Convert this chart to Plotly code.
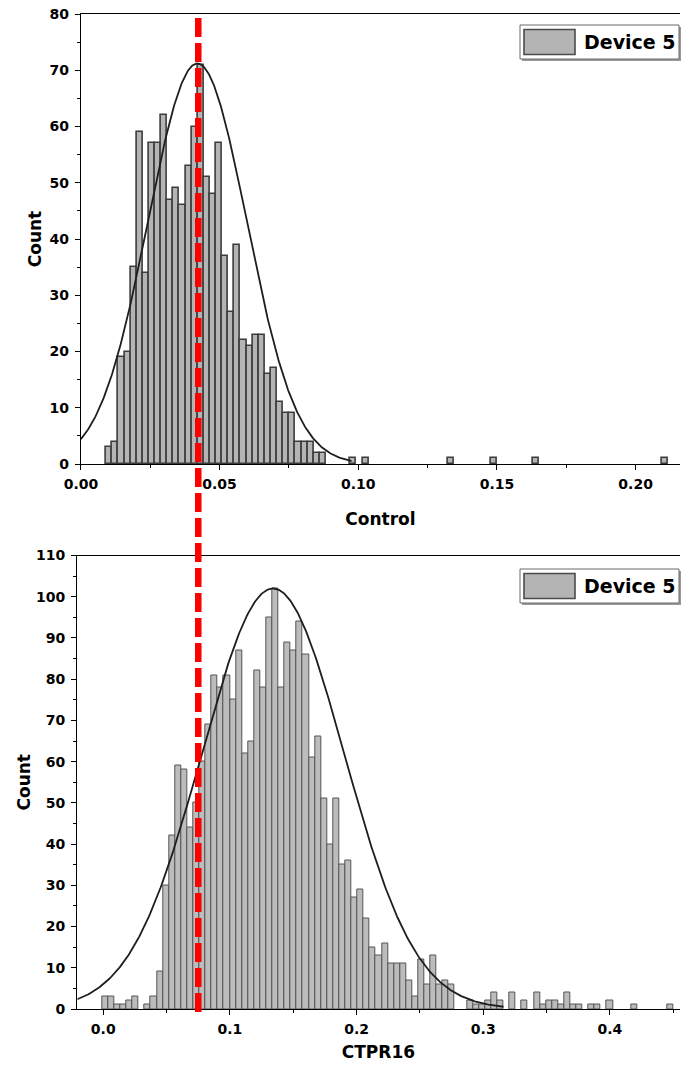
import numpy as np
import plotly.graph_objects as go

W, H = 682, 1073

# ---------------- data ----------------
# Control histogram (Device 5): bin edges start, bin width, counts per bin
control_bin_start = 0.0091
control_bin_width = 0.0022
control_counts = [
    3, 4, 19, 20, 35, 59, 34, 57, 57, 62,
    47, 49, 46, 53, 60, 71, 51, 48, 57, 37,
    27, 39, 22, 21, 23, 23, 16, 17, 11, 9,
    9, 4, 4, 4, 2, 2, 0, 0, 0, 0,
    1, 0, 1, 0, 0, 0, 0, 0, 0, 0,
    0, 0, 0, 0, 0, 0, 1, 0, 0, 0,
    0, 0, 0, 1, 0, 0, 0, 0, 0, 0,
    1, 0, 0, 0, 0, 0, 0, 0, 0, 0,
    0, 0, 0, 0, 0, 0, 0, 0, 0, 0,
    0, 1,
]

# CTPR16 histogram (Device 5)
ctpr16_bin_start = -0.0009
ctpr16_bin_width = 0.0048
ctpr16_counts = [
    3, 3, 1, 1, 2, 3, 0, 1, 3, 9,
    30, 42, 59, 58, 44, 50, 60, 69, 81, 78,
    81, 75, 87, 62, 65, 82, 78, 95, 102, 78,
    89, 87, 94, 86, 61, 66, 51, 40, 51, 35,
    36, 27, 29, 22, 15, 13, 16, 11, 11, 11,
    7, 3, 12, 6, 13, 6, 7, 6, 0, 0,
    2, 1, 1, 2, 4, 2, 0, 4, 0, 2,
    0, 4, 1, 2, 2, 1, 4, 1, 1, 0,
    1, 1, 0, 2, 0, 0, 0, 1, 0, 0,
    0, 0, 0, 1,
]

# normal-distribution fits: peak height, mean, sigma, drawn x-span
control_fit = dict(peak=71.2, mean=0.0420, sigma=0.0178, x0=0.0, x1=0.0976)
ctpr16_fit = dict(peak=102.0, mean=0.134, sigma=0.0563, x0=-0.0205, x1=0.316)

# dashed red reference (CTPR16 axis value; same screen column as ~0.042 on Control)
reference_ctpr16_x = 0.075

legend_label = "Device 5"
control_title = "Control"
ctpr16_title = "CTPR16"
count_title = "Count"

# ---------------- layout helpers ----------------
def px(x):
    return x / W


def py(y):
    return 1 - y / H


FONT = "DejaVu Sans"
AX_COLOR = "#000000"


def hist_xy(start, width, counts):
    c = np.asarray(counts, dtype=float)
    centers = start + width * (np.arange(len(c)) + 0.5)
    keep = c > 0
    return centers[keep], c[keep]


def gauss_xy(fit, n=400):
    x = np.linspace(fit["x0"], fit["x1"], n)
    y = fit["peak"] * np.exp(-((x - fit["mean"]) ** 2) / (2 * fit["sigma"] ** 2))
    return x, y


fig = go.Figure()

cx, cy = hist_xy(control_bin_start, control_bin_width, control_counts)
fig.add_trace(go.Bar(
    x=cx, y=cy, width=control_bin_width, xaxis="x", yaxis="y",
    marker=dict(color="#b4b4b4", line=dict(color="#3c3c3c", width=1.6)),
    showlegend=False, name=legend_label,
))
gx, gy = gauss_xy(control_fit)
fig.add_trace(go.Scatter(
    x=gx, y=gy, mode="lines", xaxis="x", yaxis="y",
    line=dict(color="#1e1e1e", width=1.8), showlegend=False, hoverinfo="skip",
))

tx, ty = hist_xy(ctpr16_bin_start, ctpr16_bin_width, ctpr16_counts)
fig.add_trace(go.Bar(
    x=tx, y=ty, width=ctpr16_bin_width, xaxis="x2", yaxis="y2",
    marker=dict(color="#bcbcbc", line=dict(color="#555555", width=1.0)),
    showlegend=False, name=legend_label,
))
gx2, gy2 = gauss_xy(ctpr16_fit)
fig.add_trace(go.Scatter(
    x=gx2, y=gy2, mode="lines", xaxis="x2", yaxis="y2",
    line=dict(color="#1e1e1e", width=1.8), showlegend=False, hoverinfo="skip",
))

tick_font = dict(family=FONT, size=14, color="#000", weight="bold")
title_font = dict(family=FONT, size=17, color="#000", weight="bold")


def xaxis_cfg(domain, rng, dtick, fmt, title, anchor, standoff):
    return dict(
        domain=domain, range=rng, anchor=anchor,
        dtick=dtick, tick0=0, tickformat=fmt,
        ticks="outside", ticklen=5, tickwidth=1.3, tickcolor=AX_COLOR,
        minor=dict(ticks="outside", ticklen=3, tickwidth=1.2, dtick=dtick / 2,
                   tick0=0, tickcolor=AX_COLOR),
        showline=True, linecolor=AX_COLOR, linewidth=1.4, mirror=True,
        showgrid=False, zeroline=False, tickfont=tick_font,
        ticklabelstandoff=2,
        title=dict(text=title, font=title_font, standoff=standoff),
        automargin=False, fixedrange=True,
    )


def yaxis_cfg(domain, rng, title, anchor, standoff):
    return dict(
        domain=domain, range=rng, anchor=anchor,
        dtick=10, tick0=0,
        ticks="outside", ticklen=5, tickwidth=1.3, tickcolor=AX_COLOR,
        minor=dict(ticks="outside", ticklen=3, tickwidth=1.2, dtick=5,
                   tick0=0, tickcolor=AX_COLOR),
        showline=True, linecolor=AX_COLOR, linewidth=1.4, mirror=False,
        showgrid=False, zeroline=False, tickfont=tick_font,
        ticklabelstandoff=3,
        title=dict(text=title, font=title_font, standoff=standoff),
        automargin=False, fixedrange=True,
    )


top_x = [px(80.9), px(680.0)]
top_y = [py(464.0), py(14.0)]
bot_x = [px(77.3), px(679.6)]
bot_y = [py(1009.0), py(555.5)]

shapes = []
annotations = []


def legend_box(y_top):
    box_l, box_r = 520, 679
    box_t, box_b = y_top, y_top + 34
    # soft shadow
    shapes.append(dict(type="rect", xref="paper", yref="paper",
                       x0=px(box_l + 2), x1=px(box_r + 2),
                       y0=py(box_b + 2), y1=py(box_t + 2),
                       fillcolor="#9a9a9a", line=dict(width=0), layer="above"))
    shapes.append(dict(type="rect", xref="paper", yref="paper",
                       x0=px(box_l), x1=px(box_r), y0=py(box_b), y1=py(box_t),
                       fillcolor="#ffffff", line=dict(color="#6a6a6a", width=1),
                       layer="above"))
    shapes.append(dict(type="rect", xref="paper", yref="paper",
                       x0=px(box_l + 4), x1=px(box_l + 55),
                       y0=py(box_b - 4.5), y1=py(box_t + 4.5),
                       fillcolor="#b4b4b4", line=dict(color="#4a4a4a", width=1.6),
                       layer="above"))
    annotations.append(dict(
        xref="paper", yref="paper", x=px(box_l + 62), y=py(box_t + 17),
        xanchor="left", yanchor="middle", showarrow=False,
        text=legend_label, font=dict(family=FONT, size=19, color="#000", weight="bold"),
    ))


legend_box(25)
legend_box(569)

# dashed vertical reference line spanning both panels
shapes.append(dict(
    type="line", xref="x2", yref="paper",
    x0=reference_ctpr16_x, x1=reference_ctpr16_x,
    y0=py(1012), y1=py(14),
    line=dict(color="#ff0000", width=6.5, dash="19px,6px"), layer="above",
))

fig.update_layout(
    width=W, height=H,
    margin=dict(l=0, r=0, t=0, b=0),
    paper_bgcolor="#ffffff", plot_bgcolor="#ffffff",
    bargap=0, barmode="overlay",
    xaxis=xaxis_cfg(top_x, [0, 0.216], 0.05, ".2f", control_title, "y", 22),
    yaxis=yaxis_cfg(top_y, [0, 80], count_title, "x", 3),
    xaxis2=xaxis_cfg(bot_x, [-0.0205, 0.455], 0.1, ".1f", ctpr16_title, "y2", 10),
    yaxis2=yaxis_cfg(bot_y, [0, 110], count_title, "x2", 1),
    shapes=shapes, annotations=annotations,
    showlegend=False,
)

fig.write_html("out.html")
